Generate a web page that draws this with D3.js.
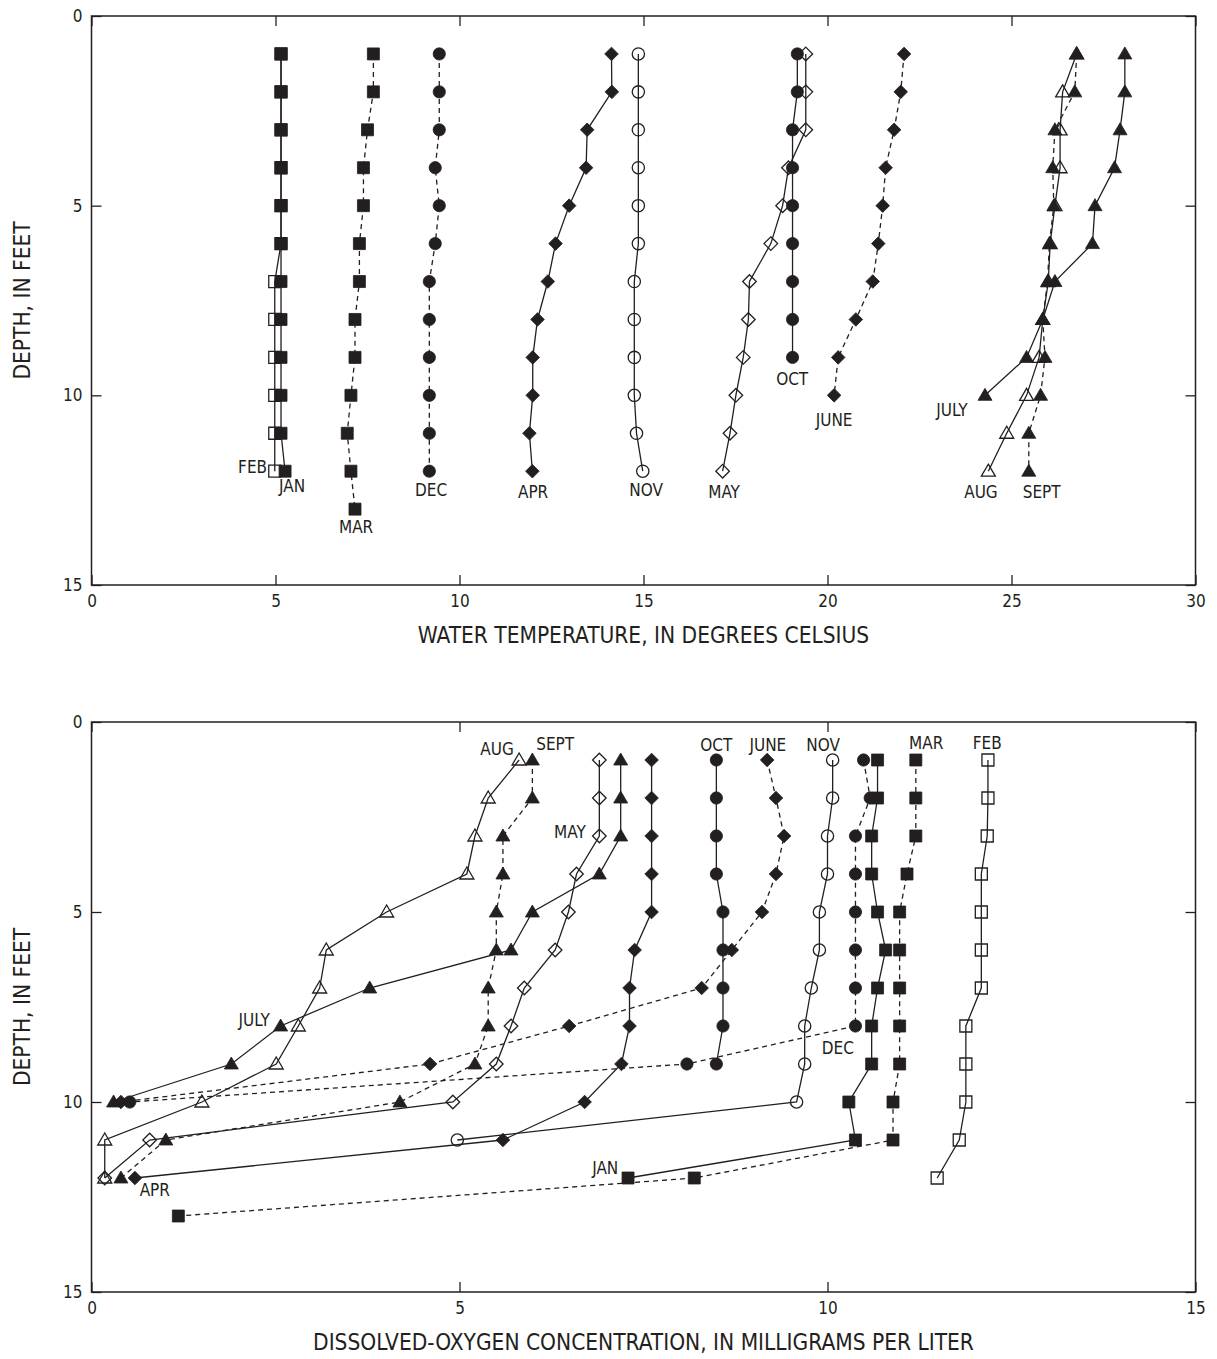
<!DOCTYPE html>
<meta charset="utf-8">
<style>
body { margin: 0; background: #fff; }
text { font-family: "Liberation Sans Narrow", "Arial Narrow", "DejaVu Sans Condensed", sans-serif; fill: #231f20; }
.tick text { font-size: 17px; }
.tick line { stroke: #231f20; stroke-width: 1.3; }
.frame { fill: none; stroke: #231f20; stroke-width: 1.5; }
.title { font-size: 22.5px; }
.mlabel { font-size: 17px; }
.profile { fill: none; stroke: #231f20; stroke-width: 1.3; }
</style>
<body>
<script src="https://d3js.org/d3.v7.min.js"></script>
<script>
// depth of each sample, in feet (index i of every series is depths[i])
var depths = [1, 2, 3, 4, 5, 6, 7, 8, 9, 10, 11, 12, 13];

var months = ["JAN", "FEB", "MAR", "APR", "MAY", "JUNE", "JULY", "AUG", "SEPT", "OCT", "NOV", "DEC"];

// water temperature, degrees Celsius
var tempJAN  = [5.15, 5.15, 5.15, 5.15, 5.15, 5.15, 5.15, 5.15, 5.15, 5.15, 5.15, 5.26];
var tempFEB  = [5.15, 5.15, 5.15, 5.15, 5.15, 5.15, 4.98, 4.98, 4.98, 4.98, 4.98, 4.98];
var tempMAR  = [7.66, 7.66, 7.50, 7.39, 7.39, 7.28, 7.28, 7.16, 7.16, 7.05, 6.95, 7.05, 7.16];
var tempAPR  = [14.13, 14.14, 13.47, 13.44, 12.98, 12.61, 12.40, 12.12, 11.99, 11.99, 11.90, 11.98];
var tempMAY  = [19.41, 19.41, 19.41, 18.94, 18.78, 18.46, 17.88, 17.85, 17.71, 17.51, 17.35, 17.15];
var tempJUNE = [22.08, 21.99, 21.81, 21.58, 21.50, 21.38, 21.23, 20.77, 20.29, 20.18];
var tempJULY = [28.08, 28.08, 27.95, 27.80, 27.27, 27.20, 26.18, 25.85, 25.41, 24.28];
var tempAUG  = [26.77, 26.39, 26.32, 26.32, 26.18, 26.05, 26.00, 25.85, 25.75, 25.41, 24.87, 24.37];
var tempSEPT = [26.77, 26.72, 26.18, 26.12, 26.15, 26.03, 25.98, 25.85, 25.91, 25.79, 25.47, 25.47];
var tempOCT  = [19.18, 19.18, 19.05, 19.05, 19.05, 19.05, 19.05, 19.05, 19.05];
var tempNOV  = [14.86, 14.86, 14.86, 14.86, 14.86, 14.86, 14.75, 14.75, 14.75, 14.75, 14.81, 14.98];
var tempDEC  = [9.45, 9.45, 9.45, 9.34, 9.45, 9.34, 9.18, 9.18, 9.18, 9.18, 9.18, 9.18];

// dissolved oxygen, mg/L
var doJAN  = [10.68, 10.68, 10.60, 10.60, 10.68, 10.79, 10.68, 10.60, 10.60, 10.29, 10.38, 7.29];
var doFEB  = [12.18, 12.18, 12.17, 12.09, 12.09, 12.09, 12.09, 11.88, 11.88, 11.88, 11.79, 11.49];
var doMAR  = [11.20, 11.20, 11.20, 11.08, 10.98, 10.98, 10.98, 10.98, 10.98, 10.89, 10.89, 8.19, 1.18];
var doAPR  = [7.61, 7.61, 7.61, 7.61, 7.61, 7.38, 7.31, 7.31, 7.20, 6.70, 5.59, 0.59];
var doMAY  = [6.90, 6.90, 6.90, 6.59, 6.48, 6.30, 5.88, 5.70, 5.50, 4.91, 0.79, 0.18];
var doJUNE = [9.18, 9.30, 9.41, 9.30, 9.11, 8.70, 8.29, 6.49, 4.60, 0.40];
var doJULY = [7.19, 7.19, 7.19, 6.90, 5.99, 5.70, 3.78, 2.57, 1.90, 0.30];
var doAUG  = [5.81, 5.39, 5.21, 5.10, 4.01, 3.19, 3.10, 2.81, 2.51, 1.50, 0.18, 0.18];
var doSEPT = [5.99, 5.99, 5.59, 5.59, 5.50, 5.50, 5.39, 5.39, 5.21, 4.19, 1.01, 0.40];
var doOCT  = [8.49, 8.49, 8.49, 8.49, 8.58, 8.58, 8.58, 8.58, 8.49];
var doNOV  = [10.07, 10.07, 10.00, 10.00, 9.89, 9.89, 9.78, 9.69, 9.69, 9.58, 4.97];
var doDEC  = [10.49, 10.58, 10.38, 10.38, 10.38, 10.38, 10.38, 10.38, 8.09, 0.52];

var tempTicks = [0, 5, 10, 15, 20, 25, 30];
var doTicks = [0, 5, 10, 15];
var depthTicks = [0, 5, 10, 15];

// marker style per month: shape, filled?, dashed line?
var monthShape  = ["square", "square", "square", "diamond", "diamond", "diamond", "triangle", "triangle", "triangle", "circle", "circle", "circle"];
var monthFilled = [true, false, true, true, false, true, true, false, true, true, false, true];
var monthDashed = [false, false, true, false, false, true, false, false, true, false, false, true];

// where the month names sit, in data units [value, depth, anchor]
var tempLabelPos = [[5.45, 12.55, "middle"], [4.77, 12.05, "end"], [7.19, 13.63, "middle"], [12.0, 12.71, "middle"],
  [17.19, 12.71, "middle"], [20.18, 10.81, "middle"], [23.38, 10.55, "middle"], [24.17, 12.71, "middle"],
  [25.82, 12.71, "middle"], [19.04, 9.73, "middle"], [15.07, 12.65, "middle"], [9.23, 12.65, "middle"]];
var doLabelPos = [[6.98, 11.89, "middle"], [12.17, 0.71, "middle"], [11.34, 0.71, "middle"], [0.86, 12.47, "middle"],
  [6.50, 3.05, "middle"], [9.19, 0.76, "middle"], [2.21, 8.0, "middle"], [5.51, 0.87, "middle"],
  [6.30, 0.74, "middle"], [8.49, 0.76, "middle"], [9.94, 0.76, "middle"], [10.14, 8.74, "middle"]];

var tempSeries = [tempJAN, tempFEB, tempMAR, tempAPR, tempMAY, tempJUNE, tempJULY, tempAUG, tempSEPT, tempOCT, tempNOV, tempDEC];
var doSeries = [doJAN, doFEB, doMAR, doAPR, doMAY, doJUNE, doJULY, doAUG, doSEPT, doOCT, doNOV, doDEC];

var svg = d3.select("body").append("svg")
    .attr("width", 1217)
    .attr("height", 1359);

function markerPath(shape) {
  if (shape == "square") return "M-6,-6H6V6H-6Z";
  if (shape == "diamond") return "M0,-6.8L6.8,0L0,6.8L-6.8,0Z";
  if (shape == "triangle") return "M0,-7L7,5L-7,5Z";
  return d3.symbol().type(d3.symbolCircle).size(118)();
}

function drawPanel(top, bottom, xMax, xTicks, series, labelPos, xTitle) {
  var x = d3.scaleLinear().domain([0, xMax]).range([91.5, 1195.5]);
  var y = d3.scaleLinear().domain([0, 15]).range([top, bottom]);
  var g = svg.append("g");

  g.append("g")
      .attr("transform", "translate(0," + bottom + ")")
      .call(d3.axisBottom(x).tickValues(xTicks).tickSizeInner(-10).tickSizeOuter(0).tickPadding(10))
      .call(function(a) { a.select(".domain").remove(); });
  g.append("g")
      .attr("transform", "translate(0," + top + ")")
      .call(d3.axisTop(x).tickValues(xTicks).tickSizeInner(-10).tickSizeOuter(0).tickFormat(""))
      .call(function(a) { a.select(".domain").remove(); });
  g.append("g")
      .attr("transform", "translate(91.5,0)")
      .call(d3.axisLeft(y).tickValues(depthTicks).tickSizeInner(-10).tickSizeOuter(0).tickPadding(9))
      .call(function(a) { a.select(".domain").remove(); });
  g.append("g")
      .attr("transform", "translate(1195.5,0)")
      .call(d3.axisRight(y).tickValues(depthTicks).tickSizeInner(-10).tickSizeOuter(0).tickFormat(""))
      .call(function(a) { a.select(".domain").remove(); });

  g.append("rect").attr("class", "frame")
      .attr("x", x(0)).attr("y", y(0))
      .attr("width", x(xMax) - x(0)).attr("height", y(15) - y(0));

  var line = d3.line()
      .x(function(d) { return x(d[0]); })
      .y(function(d) { return y(d[1]); });

  series.forEach(function(vals, m) {
    var pts = vals.map(function(v, i) { return [v, depths[i]]; });
    g.append("path").attr("class", "profile")
        .attr("d", line(pts))
        .attr("stroke-dasharray", monthDashed[m] ? "5,4" : null);
  });

  series.forEach(function(vals, m) {
    var pts = vals.map(function(v, i) { return [v, depths[i]]; });
    g.selectAll(null).data(pts).enter().append("path")
        .attr("transform", function(d) { return "translate(" + x(d[0]) + "," + y(d[1]) + ")"; })
        .attr("d", markerPath(monthShape[m]))
        .attr("fill", monthFilled[m] ? "#231f20" : "none")
        .attr("stroke", "#231f20")
        .attr("stroke-width", monthFilled[m] ? 0.8 : 1.3);
  });

  labelPos.forEach(function(p, m) {
    g.append("text").attr("class", "mlabel")
        .attr("x", x(p[0])).attr("y", y(p[1]))
        .attr("text-anchor", p[2])
        .text(months[m]);
  });

  g.append("text").attr("class", "title")
      .attr("x", (x(0) + x(xMax)) / 2)
      .attr("y", bottom + 58)
      .attr("text-anchor", "middle")
      .text(xTitle);

  g.append("text").attr("class", "title")
      .attr("transform", "translate(30," + ((top + bottom) / 2) + ") rotate(-90)")
      .attr("text-anchor", "middle")
      .text("DEPTH, IN FEET");
}

drawPanel(16, 585, 30, tempTicks, tempSeries, tempLabelPos, "WATER TEMPERATURE, IN DEGREES CELSIUS");
drawPanel(722, 1292, 15, doTicks, doSeries, doLabelPos, "DISSOLVED-OXYGEN CONCENTRATION, IN MILLIGRAMS PER LITER");
</script>
</body>
